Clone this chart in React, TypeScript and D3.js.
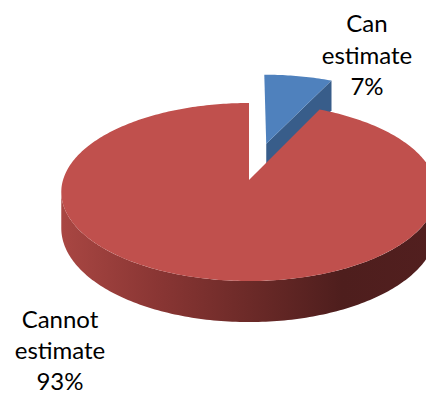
import React from "react";
import * as d3 from "d3";

const categories = ["Can estimate", "Cannot estimate"];
const categoryLines = [["Can", "estimate"], ["Cannot", "estimate"]];
const values = [7, 93];
const topColors = ["#4F81BD", "#C0504D"];
const sideColors = ["#385D8A", "#8A3634"];
const exploded = [0.45, 0];

const W = 426;
const H = 396;
const CX = 249;
const CY = 180;
const R = 186; // horizontal radius
const RT = 87.4; // vertical (tilted) radius
const K = 0.135; // perspective factor
const DEPTH = 35.5;

function proj(u: number, v: number, drop: number): [number, number] {
  const s = 1 / (1 - K * v);
  return [CX + R * u * s, CY + RT * v * s + drop * DEPTH * s];
}

function rimPoint(a: number, ex: number, ey: number, drop: number) {
  return proj(Math.sin(a) + ex, -Math.cos(a) + ey, drop);
}

function arcPoints(a0: number, a1: number, ex: number, ey: number, drop: number) {
  const n = Math.max(2, Math.ceil((Math.abs(a1 - a0) * 180) / Math.PI));
  const pts: [number, number][] = [];
  for (let i = 0; i <= n; i++) {
    const a = a0 + ((a1 - a0) * i) / n;
    pts.push(rimPoint(a, ex, ey, drop));
  }
  return pts;
}

const line = d3.line<[number, number]>().curve(d3.curveLinearClosed);

export default function App() {
  const pie = d3.pie<number>().sort(null).startAngle(0).endAngle(2 * Math.PI);
  const arcs = pie(values);
  const total = d3.sum(values);
  const silR = Math.acos(-K);
  const silL = 2 * Math.PI - silR;

  const pieces: React.ReactNode[] = [];
  arcs.forEach((d, i) => {
    const mid = (d.startAngle + d.endAngle) / 2;
    const ex = Math.sin(mid) * exploded[i];
    const ey = -Math.cos(mid) * exploded[i];
    const tipTop = proj(ex, ey, 0);
    const tipBot = proj(ex, ey, 1);
    const endA = d.endAngle;
    if (endA < Math.PI && i === 0) {
      const rt = rimPoint(endA, ex, ey, 0);
      const rb = rimPoint(endA, ex, ey, 1);
      pieces.push(
        <path key={`rw${i}`} d={line([tipTop, rt, rb, tipBot]) || ""} fill={sideColors[i]} />
      );
    }
    const w0 = Math.max(d.startAngle, silR);
    const w1 = Math.min(d.endAngle, silL);
    if (w1 > w0) {
      const top = arcPoints(w0, w1, ex, ey, 0);
      const bot = arcPoints(w1, w0, ex, ey, 1);
      pieces.push(
        <path key={`ow${i}`} d={line([...top, ...bot]) || ""} fill={`url(#side${i})`} />
      );
    }
    const face = [tipTop, ...arcPoints(d.startAngle, d.endAngle, ex, ey, 0)];
    pieces.push(<path key={`tf${i}`} d={line(face) || ""} fill={topColors[i]} />);
  });

  const labelPos = [
    { x: 367, y: 32, lh: 31.5 },
    { x: 60, y: 328, lh: 31 },
  ];

  return (
    <svg
      width={W}
      height={H}
      style={{ position: "absolute", left: 0, top: 0 }}
      fontFamily="Lato, 'Open Sans', sans-serif"
    >
      <defs>
        <linearGradient id="side0" gradientUnits="userSpaceOnUse" x1={63} x2={435} y1={0} y2={0}>
          <stop offset="0" stopColor="#4A6F9E" />
          <stop offset="1" stopColor="#2A4566" />
        </linearGradient>
        <linearGradient id="side1" gradientUnits="userSpaceOnUse" x1={63} x2={435} y1={0} y2={0}>
          <stop offset="0" stopColor="#A84642" />
          <stop offset="0.25" stopColor="#8A3634" />
          <stop offset="0.5" stopColor="#6C2A28" />
          <stop offset="0.75" stopColor="#4E1E1D" />
          <stop offset="1" stopColor="#521F1F" />
        </linearGradient>
      </defs>
      <rect width={W} height={H} fill="#fff" />
      {pieces}
      {arcs.map((d, i) => (
        <text
          key={`lab${i}`}
          x={labelPos[i].x}
          y={labelPos[i].y}
          textAnchor="middle"
          fontSize={24}
          fill="#000"
          aria-label={categories[i]}
        >
          {categoryLines[i].map((t, j) => (
            <tspan key={j} x={labelPos[i].x} y={labelPos[i].y + j * labelPos[i].lh}>
              {t}
            </tspan>
          ))}
          <tspan x={labelPos[i].x} y={labelPos[i].y + categoryLines[i].length * labelPos[i].lh}>
            {`${Math.round((d.data / total) * 100)}%`}
          </tspan>
        </text>
      ))}
    </svg>
  );
}
